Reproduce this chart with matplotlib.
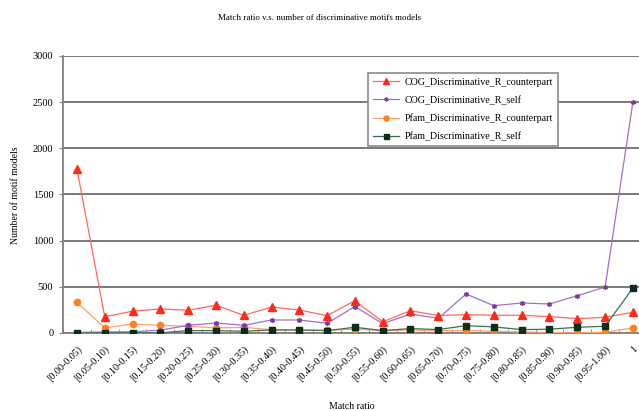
import matplotlib.pyplot as plt
import numpy as np

plt.rcParams['font.family'] = ['Liberation Serif', 'DejaVu Serif']

categories = ['[0.00-0.05)', '[0.05-0.10)', '[0.10-0.15)', '[0.15-0.20)', '[0.20-0.25)',
              '[0.25-0.30)', '[0.30-0.35)', '[0.35-0.40)', '[0.40-0.45)', '[0.45-0.50)',
              '[0.50-0.55)', '[0.55-0.60)', '[0.60-0.65)', '[0.65-0.70)', '[0.70-0.75)',
              '[0.75-0.80)', '[0.80-0.85)', '[0.85-0.90)', '[0.90-0.95)', '[0.95-1.00)', '1']

cog_counterpart = [1780, 175, 235, 260, 245, 300, 190, 280, 248, 187, 349,
                   120, 240, 188, 198, 191, 191, 176, 155, 169, 223]
cog_self = [5, 10, 12, 30, 82, 108, 82, 140, 140, 104, 285,
            100, 205, 158, 421, 295, 324, 313, 403, 497, 2500]
pfam_counterpart = [331, 54, 97, 82, 71, 54, 60, 35, 30, 28, 40,
                    25, 30, 25, 28, 17, 10, 5, 0, 7, 54]
pfam_self = [0, 0, 0, 0, 25, 25, 18, 32, 32, 25, 61,
             25, 47, 36, 79, 65, 36, 40, 61, 72, 486]

fig = plt.figure(figsize=(6.39, 4.11), dpi=100)
ax = fig.add_axes([0.0986, 0.19, 0.9136, 0.674])

x = np.arange(len(categories))

ax.plot(x, cog_counterpart, color='#ff6a5a', lw=0.9, marker='^', ms=5.5,
        mfc='#ff2a1a', mec='#ff2a1a', label='COG_Discriminative_R_counterpart', zorder=5)
ax.plot(x, cog_self, color='#a070d0', lw=0.9, marker=(6, 2, 0), ms=3.5,
        mfc='#7a3aa8', mec='#7a3aa8', label='COG_Discriminative_R_self', zorder=4)
ax.plot(x, pfam_counterpart, color='#ffa070', lw=0.9, marker='o', ms=4.5,
        mfc='#ff8020', mec='#ff8020', label='Pfam_Discriminative_R_counterpart', zorder=3)
ax.plot(x, pfam_self, color='#3d6f55', lw=0.9, marker='s', ms=4.5,
        mfc='#0a2e18', mec='#0a2e18', label='Pfam_Discriminative_R_self', zorder=6)

ax.set_xlim(-0.5, len(categories) - 0.5)
ax.set_ylim(0, 3000)
ax.set_yticks(np.arange(0, 3001, 500))
ax.yaxis.grid(True, color='#6e6e6e', lw=1.3)
ax.set_axisbelow(True)

ax.set_xticks(x)
ax.set_xticklabels(categories, rotation=45, ha='right', rotation_mode='anchor', fontsize=7.3)
ax.set_xticks(np.arange(-0.5, len(categories)), minor=True)
ax.tick_params(axis='x', which='major', length=0, pad=8)
ax.tick_params(axis='x', which='minor', length=3, direction='in', color='#808080')
ax.tick_params(axis='y', length=3, color='#808080', labelsize=7.5, pad=4)

for side in ['top', 'right']:
    ax.spines[side].set_visible(False)
for side in ['left', 'bottom']:
    ax.spines[side].set_color('#808080')
    ax.spines[side].set_linewidth(1.3)

fig.text(0.5, 0.955, 'Match ratio v.s. number of discriminative motifs models',
         ha='center', va='center', fontsize=6.5)
fig.text(0.025, 0.525, 'Number of motif models', rotation=90,
         ha='center', va='center', fontsize=7)
fig.text(0.55, 0.012, 'Match ratio', ha='center', va='center', fontsize=7)

leg = ax.legend(loc='upper left', bbox_to_anchor=(0.576, 0.8224),
                bbox_transform=fig.transFigure, fontsize=7.2, frameon=True,
                fancybox=False, edgecolor='#8a8a8a', framealpha=1,
                labelspacing=0.85, handlelength=2.6, handletextpad=0.6,
                borderpad=0.5, borderaxespad=0, markerscale=0.8)
leg.get_frame().set_linewidth(1.2)

fig.savefig('out.png', dpi=100)
